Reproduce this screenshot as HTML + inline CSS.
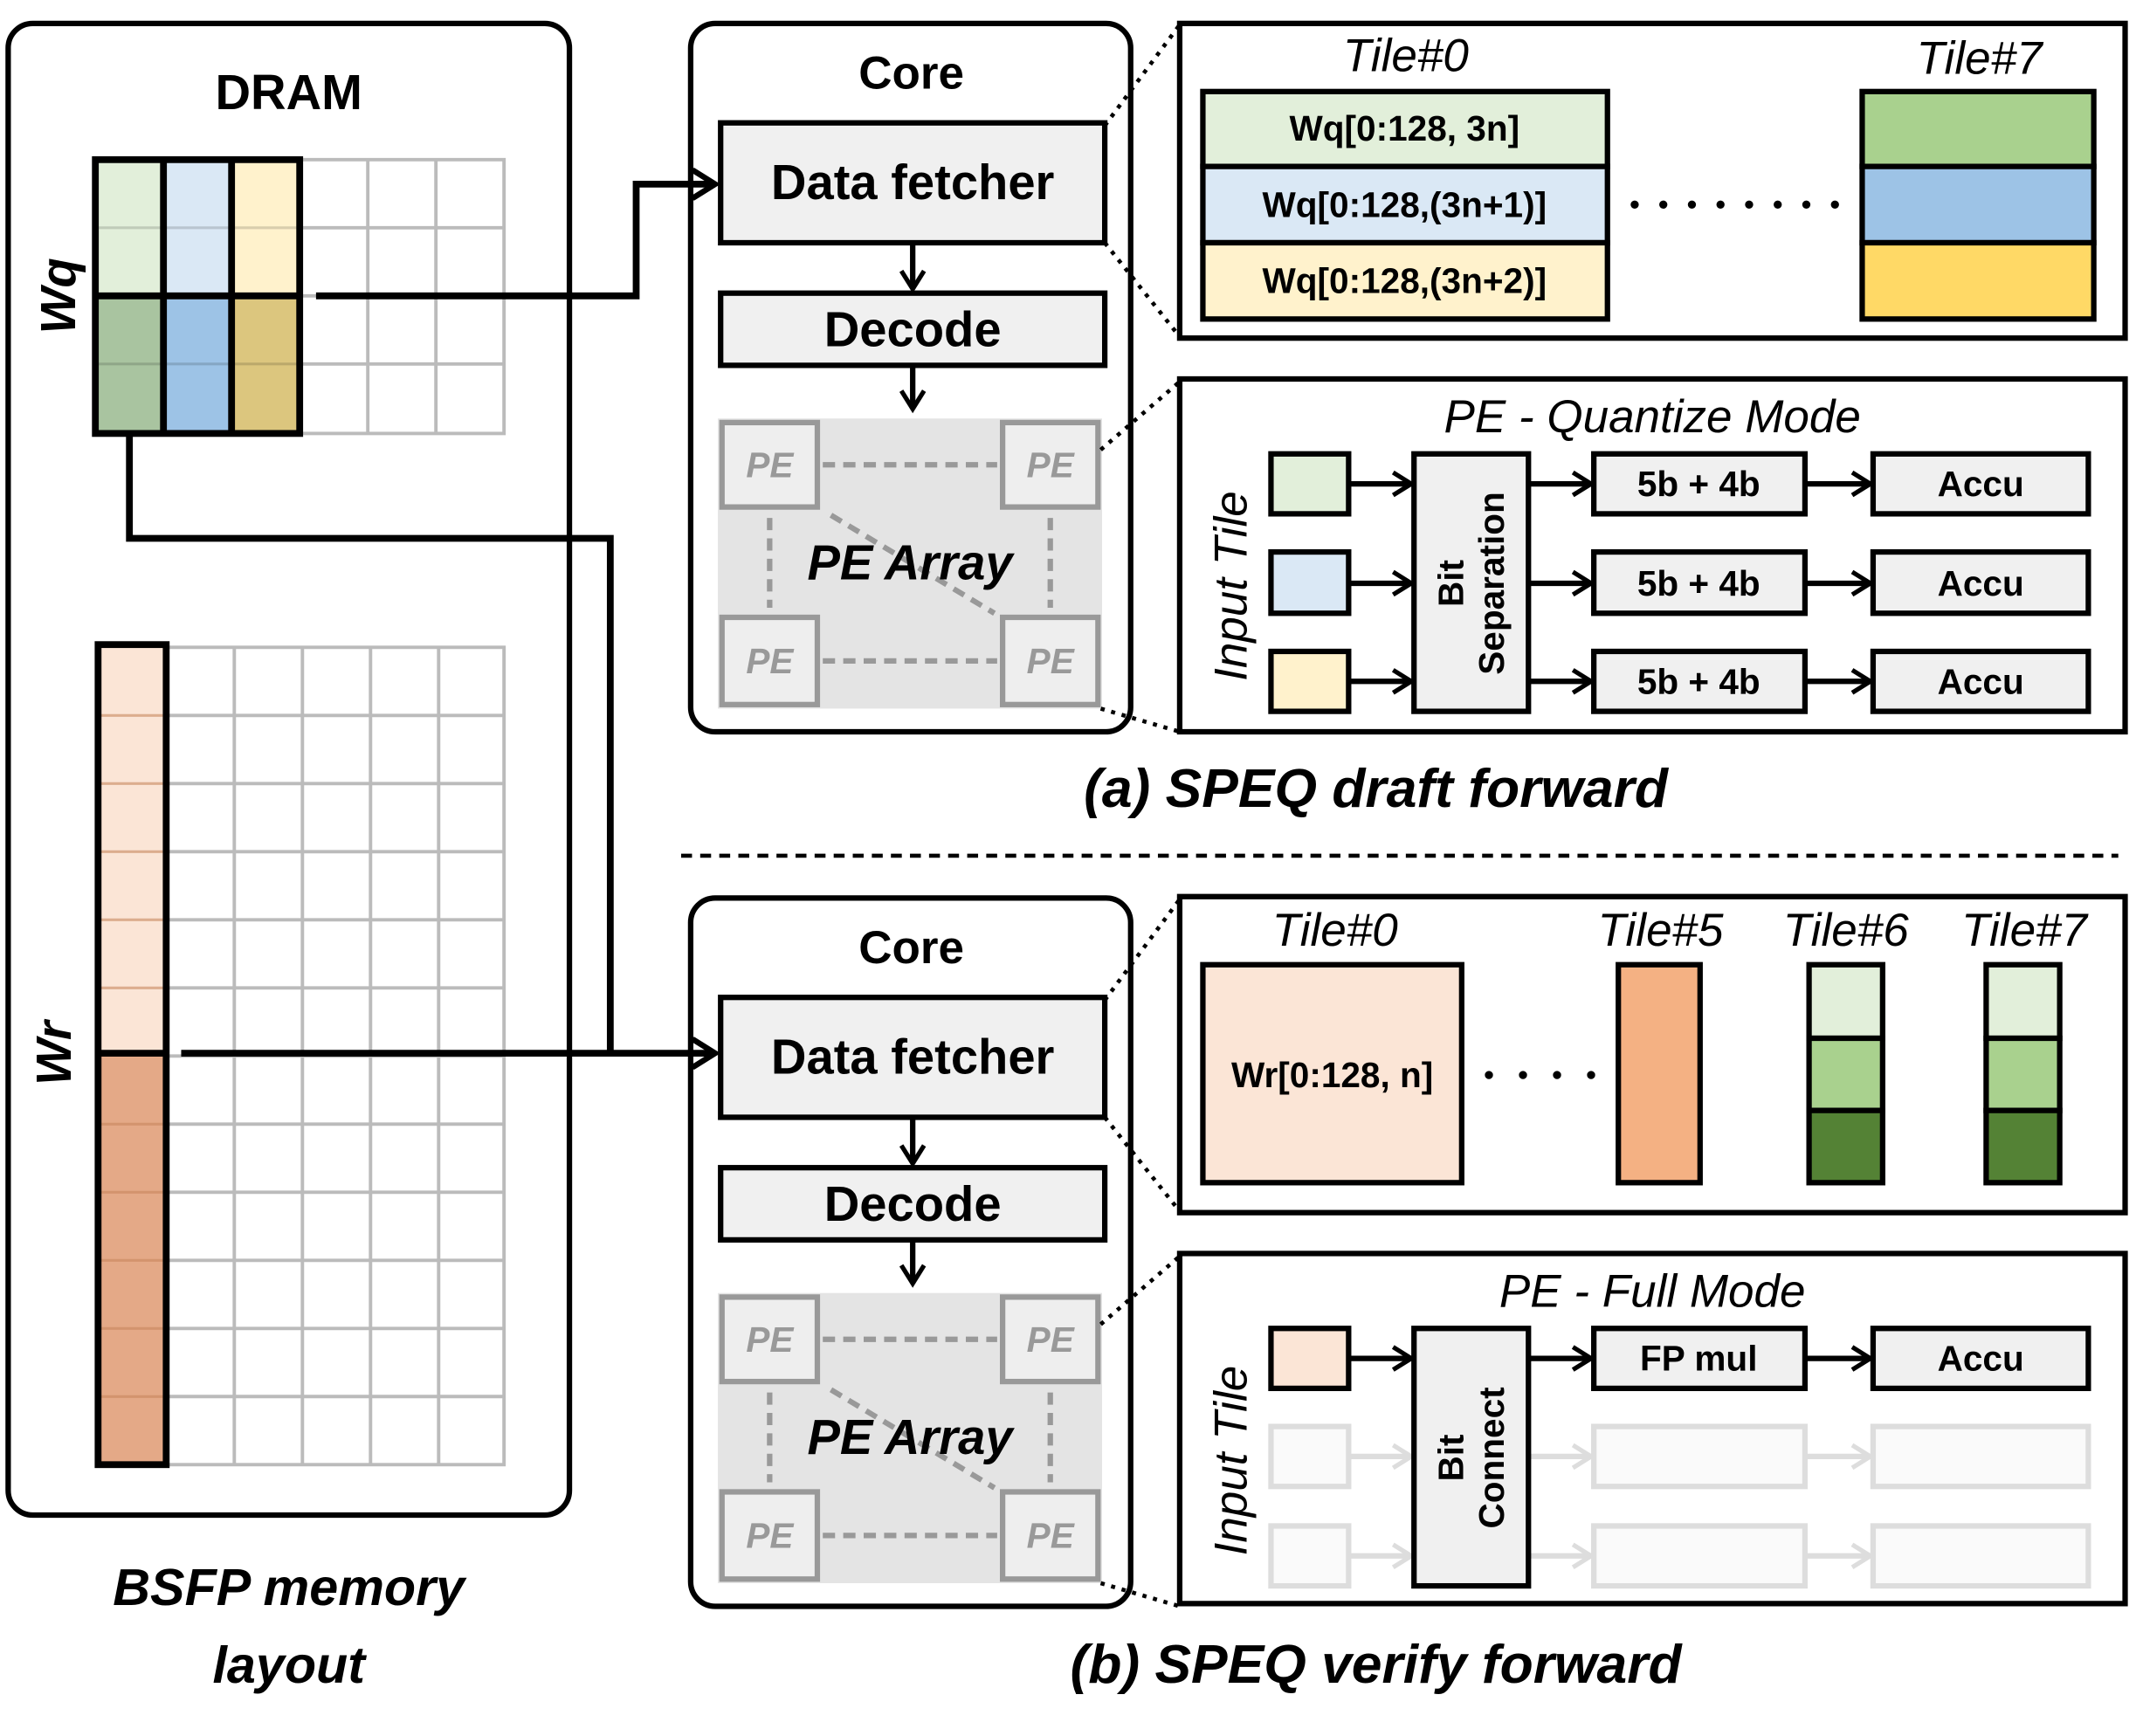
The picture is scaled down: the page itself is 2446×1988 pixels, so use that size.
<!DOCTYPE html>
<html><head><meta charset="utf-8"><style>
html,body{margin:0;padding:0;background:#fff}
svg{display:block}
text{font-family:"Liberation Sans",sans-serif}
.b{font-weight:bold}
.i{font-style:italic}
</style></head><body>
<svg width="2446" height="1988" viewBox="0 0 1568 1274" xmlns="http://www.w3.org/2000/svg">
<defs>
<marker id="ar" viewBox="0 0 12 12" refX="10" refY="6" markerWidth="5" markerHeight="5" orient="auto" markerUnits="strokeWidth">
<path d="M2,1 L10,6 L2,11" fill="none" stroke="#000" stroke-width="2"/></marker>
<marker id="arg" viewBox="0 0 12 12" refX="10" refY="6" markerWidth="5" markerHeight="5" orient="auto" markerUnits="strokeWidth">
<path d="M2,1 L10,6 L2,11" fill="none" stroke="#ddd" stroke-width="2"/></marker>
</defs>

<!-- DRAM -->
<rect x="6" y="17" width="412" height="1095" rx="18" fill="#fff" stroke="#000" stroke-width="4"/>
<text x="212" y="80" font-size="36" text-anchor="middle" class="b">DRAM</text>
<g stroke="#bbb" stroke-width="2.5" fill="none">
<rect x="220" y="117" width="150" height="201"/>
<line x1="270" y1="117" x2="270" y2="318"/><line x1="320" y1="117" x2="320" y2="318"/>
<line x1="220" y1="167" x2="370" y2="167"/><line x1="220" y1="217" x2="370" y2="217"/><line x1="220" y1="267" x2="370" y2="267"/>
</g>
<rect x="70" y="117" width="50" height="100" fill="#e2efda"/>
<rect x="120" y="117" width="50" height="100" fill="#dae8f5"/>
<rect x="170" y="117" width="50" height="100" fill="#fff2cc"/>
<rect x="70" y="217" width="50" height="101" fill="#a9c4a0"/>
<rect x="120" y="217" width="50" height="101" fill="#9dc3e6"/>
<rect x="170" y="217" width="50" height="101" fill="#dcc67e"/>
<g stroke="#000" stroke-opacity="0.15" stroke-width="2"><line x1="70" y1="167" x2="220" y2="167"/><line x1="70" y1="267" x2="220" y2="267"/></g>
<g stroke="#000" stroke-width="5" fill="none">
<rect x="70" y="117" width="150" height="201"/>
<line x1="120" y1="117" x2="120" y2="318"/><line x1="170" y1="117" x2="170" y2="318"/>
<line x1="70" y1="217" x2="220" y2="217"/>
</g>
<text transform="translate(55,217) rotate(-90)" font-size="36" text-anchor="middle" class="b i">Wq</text>
<g stroke="#bbb" stroke-width="2.5" fill="none">
<rect x="122" y="475" width="248" height="600"/>
<line x1="172" y1="475" x2="172" y2="1075"/><line x1="222" y1="475" x2="222" y2="1075"/><line x1="272" y1="475" x2="272" y2="1075"/><line x1="322" y1="475" x2="322" y2="1075"/>
<line x1="122" y1="525" x2="370" y2="525"/><line x1="122" y1="575" x2="370" y2="575"/><line x1="122" y1="625" x2="370" y2="625"/><line x1="122" y1="675" x2="370" y2="675"/><line x1="122" y1="725" x2="370" y2="725"/><line x1="122" y1="775" x2="370" y2="775"/><line x1="122" y1="825" x2="370" y2="825"/><line x1="122" y1="875" x2="370" y2="875"/><line x1="122" y1="925" x2="370" y2="925"/><line x1="122" y1="975" x2="370" y2="975"/><line x1="122" y1="1025" x2="370" y2="1025"/>
</g>
<rect x="72" y="475" width="50" height="298" fill="#fbe5d6"/>
<rect x="72" y="773" width="50" height="302" fill="#e4a987"/>
<g stroke="#c8875e" stroke-width="2" stroke-opacity="0.6"><line x1="72" y1="525" x2="122" y2="525"/><line x1="72" y1="575" x2="122" y2="575"/><line x1="72" y1="625" x2="122" y2="625"/><line x1="72" y1="675" x2="122" y2="675"/><line x1="72" y1="725" x2="122" y2="725"/><line x1="72" y1="825" x2="122" y2="825"/><line x1="72" y1="875" x2="122" y2="875"/><line x1="72" y1="925" x2="122" y2="925"/><line x1="72" y1="975" x2="122" y2="975"/><line x1="72" y1="1025" x2="122" y2="1025"/></g>
<g stroke="#000" stroke-width="5" fill="none"><rect x="72" y="473" width="50" height="602"/><line x1="72" y1="773" x2="122" y2="773"/></g>
<text transform="translate(52,773) rotate(-90)" font-size="36" text-anchor="middle" class="b i">Wr</text>
<text x="212" y="1178" font-size="38" text-anchor="middle" class="b i">BSFP memory</text>
<text x="212" y="1235" font-size="38" text-anchor="middle" class="b i">layout</text>

<g id="core">
<rect x="507" y="17" width="323" height="520" rx="18" fill="#fff" stroke="#000" stroke-width="4"/>
<text x="669" y="65" font-size="34" text-anchor="middle" class="b">Core</text>
<rect x="529" y="90" width="282" height="88" fill="#f0f0f0" stroke="#000" stroke-width="4"/>
<text x="670" y="146" font-size="36" text-anchor="middle" class="b">Data fetcher</text>
<line x1="670" y1="178" x2="670" y2="212" stroke="#000" stroke-width="4" marker-end="url(#ar)"/>
<rect x="529" y="215" width="282" height="53" fill="#f0f0f0" stroke="#000" stroke-width="4"/>
<text x="670" y="254" font-size="36" text-anchor="middle" class="b">Decode</text>
<line x1="670" y1="268" x2="670" y2="300" stroke="#000" stroke-width="4" marker-end="url(#ar)"/>
<rect x="527" y="307" width="282" height="213" fill="#e4e4e4"/>
<g fill="#eee" stroke="#999" stroke-width="4">
<rect x="530" y="310" width="70" height="62"/><rect x="736" y="310" width="70" height="62"/>
<rect x="530" y="453" width="70" height="64"/><rect x="736" y="453" width="70" height="64"/>
</g>
<g fill="#999" font-size="26" text-anchor="middle" class="b i">
<text x="565" y="350">PE</text><text x="771" y="350">PE</text><text x="565" y="494">PE</text><text x="771" y="494">PE</text>
</g>
<g stroke="#999" stroke-width="4" stroke-dasharray="9,6" fill="none">
<line x1="604" y1="341" x2="732" y2="341"/><line x1="604" y1="485" x2="732" y2="485"/>
<line x1="565" y1="380" x2="565" y2="446"/><line x1="771" y1="380" x2="771" y2="446"/>
<line x1="610" y1="378" x2="730" y2="450"/>
</g>
<text x="668" y="425" font-size="36" text-anchor="middle" class="b i">PE Array</text>
<g stroke="#000" stroke-width="3" stroke-dasharray="3,5" fill="none">
<line x1="811" y1="92" x2="866" y2="18"/><line x1="811" y1="178" x2="866" y2="247"/>
<line x1="808" y1="330" x2="866" y2="280"/><line x1="808" y1="520" x2="866" y2="537"/>
</g>
</g>
<use href="#core" transform="translate(0,642)"/>

<!-- connectors (after cores so arrowheads visible) -->
<g stroke="#000" stroke-width="5" fill="none">
<polyline points="232,217 467,217 467,135 525,135" marker-end="url(#ar)"/>
<polyline points="95,320 95,395 448,395 448,773" />
<polyline points="133,773 525,773" marker-end="url(#ar)"/>
</g>

<rect x="866" y="17" width="694" height="231" fill="#fff" stroke="#000" stroke-width="4"/>
<text x="1032" y="52" font-size="34" text-anchor="middle" class="i">Tile#0</text>
<text x="1453" y="54" font-size="34" text-anchor="middle" class="i">Tile#7</text>
<g stroke="#000" stroke-width="4">
<rect x="883" y="67" width="297" height="55" fill="#e2efda"/>
<rect x="883" y="122" width="297" height="56" fill="#dae8f5"/>
<rect x="883" y="178" width="297" height="56" fill="#fff2cc"/>
<rect x="1367" y="67" width="170" height="55" fill="#a9d18e"/>
<rect x="1367" y="122" width="170" height="56" fill="#9dc3e6"/>
<rect x="1367" y="178" width="170" height="56" fill="#ffd966"/>
</g>
<g font-size="26" text-anchor="middle" class="b">
<text x="1031" y="103">Wq[0:128, 3n]</text>
<text x="1031" y="159">Wq[0:128,(3n+1)]</text>
<text x="1031" y="215">Wq[0:128,(3n+2)]</text>
</g>
<line x1="1200" y1="150" x2="1350" y2="150" stroke="#000" stroke-width="6" stroke-linecap="round" stroke-dasharray="0,21"/>

<rect x="866" y="278" width="694" height="259" fill="#fff" stroke="#000" stroke-width="4"/>
<text x="1213" y="317" font-size="34" text-anchor="middle" class="i">PE - Quantize Mode</text>
<text transform="translate(915,430) rotate(-90)" font-size="34" text-anchor="middle" class="i">Input Tile</text>
<g stroke="#000" stroke-width="4">
<rect x="933" y="333" width="57" height="44" fill="#e2efda"/>
<rect x="933" y="405" width="57" height="45" fill="#dae8f5"/>
<rect x="933" y="478" width="57" height="44" fill="#fff2cc"/>
<rect x="1038" y="333" width="84" height="189" fill="#f0f0f0"/>
<rect x="1170" y="333" width="155" height="44" fill="#f0f0f0"/>
<rect x="1170" y="405" width="155" height="45" fill="#f0f0f0"/>
<rect x="1170" y="478" width="155" height="44" fill="#f0f0f0"/>
<rect x="1375" y="333" width="158" height="44" fill="#f0f0f0"/>
<rect x="1375" y="405" width="158" height="45" fill="#f0f0f0"/>
<rect x="1375" y="478" width="158" height="44" fill="#f0f0f0"/>
</g>
<g stroke="#000" stroke-width="4" marker-end="url(#ar)">
<line x1="990" y1="355" x2="1036" y2="355"/><line x1="990" y1="428" x2="1036" y2="428"/><line x1="990" y1="500" x2="1036" y2="500"/>
<line x1="1122" y1="355" x2="1168" y2="355"/><line x1="1122" y1="428" x2="1168" y2="428"/><line x1="1122" y1="500" x2="1168" y2="500"/>
<line x1="1325" y1="355" x2="1373" y2="355"/><line x1="1325" y1="428" x2="1373" y2="428"/><line x1="1325" y1="500" x2="1373" y2="500"/>
</g>
<g transform="translate(1080,428) rotate(-90)" font-size="26" text-anchor="middle" class="b">
<text x="0" y="-6">Bit</text><text x="0" y="24">Separation</text></g>
<g font-size="26" text-anchor="middle" class="b">
<text x="1247" y="364">5b + 4b</text><text x="1247" y="437">5b + 4b</text><text x="1247" y="509">5b + 4b</text>
<text x="1454" y="364">Accu</text><text x="1454" y="437">Accu</text><text x="1454" y="509">Accu</text>
</g>
<text x="1010" y="592" font-size="40" text-anchor="middle" class="b i">(a) SPEQ draft forward</text>
<line x1="500" y1="628" x2="1555" y2="628" stroke="#000" stroke-width="3" stroke-dasharray="8,6"/>

<rect x="866" y="658" width="694" height="232" fill="#fff" stroke="#000" stroke-width="4"/>
<g font-size="34" text-anchor="middle" class="i">
<text x="980" y="694">Tile#0</text><text x="1219" y="694">Tile#5</text><text x="1355" y="694">Tile#6</text><text x="1486" y="694">Tile#7</text></g>
<g stroke="#000" stroke-width="4">
<rect x="883" y="708" width="190" height="160" fill="#fbe5d6"/>
<rect x="1188" y="708" width="60" height="160" fill="#f4b183"/>
<rect x="1328" y="708" width="54" height="54" fill="#e2efda"/>
<rect x="1328" y="762" width="54" height="53" fill="#a9d18e"/>
<rect x="1328" y="815" width="54" height="53" fill="#548235"/>
<rect x="1458" y="708" width="54" height="54" fill="#e2efda"/>
<rect x="1458" y="762" width="54" height="53" fill="#a9d18e"/>
<rect x="1458" y="815" width="54" height="53" fill="#548235"/>
</g>
<text x="978" y="798" font-size="26" text-anchor="middle" class="b">Wr[0:128, n]</text>
<line x1="1093" y1="789" x2="1170" y2="789" stroke="#000" stroke-width="6" stroke-linecap="round" stroke-dasharray="0,25"/>

<rect x="866" y="920" width="694" height="257" fill="#fff" stroke="#000" stroke-width="4"/>
<text x="1213" y="959" font-size="34" text-anchor="middle" class="i">PE - Full Mode</text>
<text transform="translate(915,1072) rotate(-90)" font-size="34" text-anchor="middle" class="i">Input Tile</text>
<g stroke="#ddd" stroke-width="4" fill="#fafafa">
<rect x="933" y="1047" width="57" height="44"/><rect x="933" y="1120" width="57" height="44"/>
<rect x="1170" y="1047" width="155" height="44"/><rect x="1170" y="1120" width="155" height="44"/>
<rect x="1375" y="1047" width="158" height="44"/><rect x="1375" y="1120" width="158" height="44"/>
</g>
<g stroke="#ddd" stroke-width="4" marker-end="url(#arg)">
<line x1="990" y1="1069" x2="1036" y2="1069"/><line x1="990" y1="1142" x2="1036" y2="1142"/>
<line x1="1122" y1="1069" x2="1168" y2="1069"/><line x1="1122" y1="1142" x2="1168" y2="1142"/>
<line x1="1325" y1="1069" x2="1373" y2="1069"/><line x1="1325" y1="1142" x2="1373" y2="1142"/>
</g>
<g stroke="#000" stroke-width="4">
<rect x="933" y="975" width="57" height="44" fill="#fbe5d6"/>
<rect x="1038" y="975" width="84" height="189" fill="#f0f0f0"/>
<rect x="1170" y="975" width="155" height="44" fill="#f0f0f0"/>
<rect x="1375" y="975" width="158" height="44" fill="#f0f0f0"/>
</g>
<g stroke="#000" stroke-width="4" marker-end="url(#ar)">
<line x1="990" y1="997" x2="1036" y2="997"/><line x1="1122" y1="997" x2="1168" y2="997"/><line x1="1325" y1="997" x2="1373" y2="997"/>
</g>
<g transform="translate(1080,1070) rotate(-90)" font-size="26" text-anchor="middle" class="b">
<text x="0" y="-6">Bit</text><text x="0" y="24">Connect</text></g>
<g font-size="26" text-anchor="middle" class="b">
<text x="1247" y="1006">FP mul</text><text x="1454" y="1006">Accu</text></g>
<text x="1010" y="1235" font-size="40" text-anchor="middle" class="b i">(b) SPEQ verify forward</text>
</svg>
</body></html>
